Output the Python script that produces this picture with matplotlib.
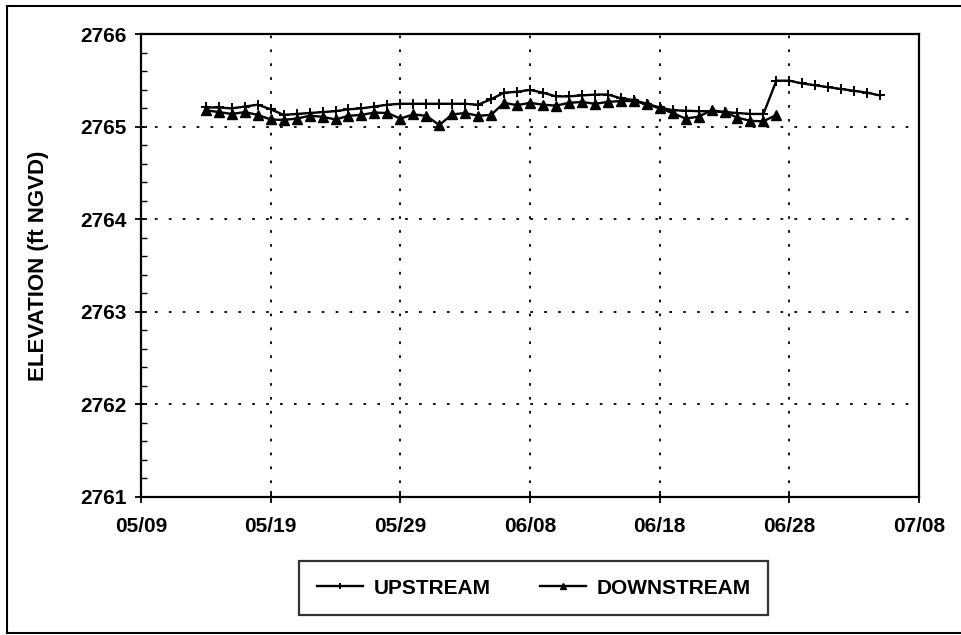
import numpy as np
import pandas as pd
import matplotlib
matplotlib.use("Agg")
import matplotlib.pyplot as plt
import matplotlib.dates as mdates
from matplotlib.lines import Line2D

plt.rcParams['font.family'] = ['Liberation Sans', 'DejaVu Sans']
plt.rcParams['font.weight'] = 'bold'

# daily readings, offset above 2765 ft
upstream_start = "1995-05-14"
upstream_off = [0.21, 0.21, 0.20, 0.22, 0.24, 0.19, 0.13, 0.14, 0.15, 0.16,
                0.17, 0.19, 0.20, 0.22, 0.24, 0.25, 0.25, 0.25,
                0.25, 0.25, 0.25, 0.24, 0.30, 0.37, 0.38, 0.40, 0.37, 0.33,
                0.33, 0.34, 0.35, 0.35, 0.31, 0.29, 0.25, 0.21, 0.18, 0.175,
                0.17, 0.17, 0.16, 0.15, 0.14, 0.14, 0.50, 0.50, 0.47, 0.45,
                0.43, 0.41, 0.39, 0.37, 0.34]

downstream_start = "1995-05-14"
downstream_off = [0.18, 0.16, 0.14, 0.16, 0.13, 0.08, 0.075, 0.09, 0.12, 0.11,
                  0.08, 0.12, 0.13, 0.155, 0.15, 0.09, 0.135, 0.12,
                  0.02, 0.135, 0.15, 0.12, 0.13, 0.26, 0.235, 0.26, 0.24, 0.23,
                  0.26, 0.27, 0.25, 0.27, 0.28, 0.28, 0.245, 0.20, 0.15, 0.09,
                  0.11, 0.18, 0.16, 0.10, 0.065, 0.06, 0.13]

base = 2765
up_dates = pd.date_range(upstream_start, periods=len(upstream_off), freq="D")
dn_dates = pd.date_range(downstream_start, periods=len(downstream_off), freq="D")
upstream = base + np.array(upstream_off)
downstream = base + np.array(downstream_off)

xmin, xmax = pd.Timestamp("1995-05-09"), pd.Timestamp("1995-07-08")
yticks = [2761, 2762, 2763, 2764, 2765, 2766]

fig = plt.figure(figsize=(9.62, 6.35), dpi=100)
ax = fig.add_axes([0.1466, 0.2181, 0.8087, 0.7276])

ax.plot(up_dates, upstream, color='black', lw=1.7, marker='+', ms=7, mew=1.4,
        label='UPSTREAM')
ax.plot(dn_dates, downstream, color='black', lw=1.7, marker='^', ms=7.5,
        label='DOWNSTREAM')

ax.set_xlim(xmin, xmax)
ax.set_ylim(2761, 2766)
ax.set_yticks(yticks)
ax.set_yticks(np.arange(2761, 2766.01, 0.2), minor=True)
ax.set_xticks(pd.date_range(xmin, xmax, freq="10D"))
ax.xaxis.set_major_formatter(mdates.DateFormatter("%m/%d"))

ax.tick_params(axis='both', which='major', direction='inout', length=9,
               width=1.3, labelsize=15, colors='black')
ax.tick_params(axis='x', pad=10)
ax.tick_params(axis='y', pad=6)
ax.tick_params(axis='y', which='minor', direction='in', length=4, width=1)

ax.grid(True, which='major', color='black', lw=1.3, linestyle=(0, (1.5, 6.2)))
for s in ax.spines.values():
    s.set_linewidth(1.6)

ax.set_ylabel('ELEVATION (ft NGVD)', fontsize=16, fontweight='bold', labelpad=22)

leg = ax.legend(loc='center', bbox_to_anchor=(0.555, 0.074),
                bbox_transform=fig.transFigure, ncol=2, fontsize=15,
                frameon=True, fancybox=False, edgecolor='black',
                handlelength=2.2, handletextpad=0.5, columnspacing=2.4,
                borderpad=0.85, numpoints=1, markerscale=0.6)
leg.get_frame().set_linewidth(1.6)

# outer frame of the page
for xs, ys in [([0.007, 0.007], [0.003, 0.99]),
               ([0.007, 1.0], [0.99, 0.99]),
               ([0.007, 1.0], [0.003, 0.003])]:
    fig.add_artist(Line2D(xs, ys, color='black', lw=1.5,
                          transform=fig.transFigure))

fig.savefig("out.png", dpi=100)
